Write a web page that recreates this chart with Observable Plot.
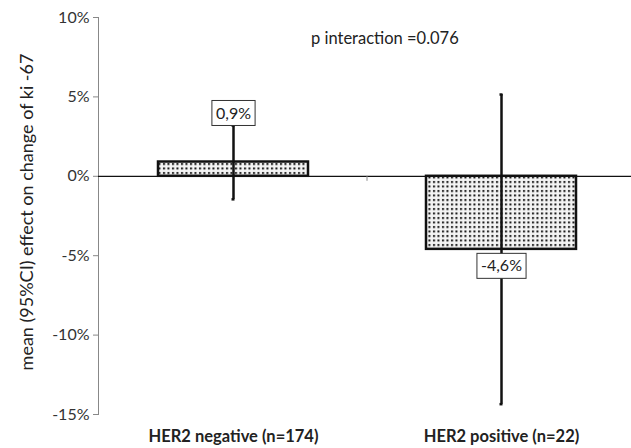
<!DOCTYPE html>
<html>
<head>
<meta charset="utf-8">
<script src="https://cdn.jsdelivr.net/npm/d3@7"></script>
<script src="https://cdn.jsdelivr.net/npm/@observablehq/plot@0.6"></script>
<style>
  html, body { margin: 0; padding: 0; background: #fff; }
  #chart { position: relative; width: 631px; height: 448px; overflow: hidden; }
  .note { position: absolute; left: 311px; top: 28px; font: 16.5px Lato, sans-serif; color: #222; }
</style>
</head>
<body>
<div id="chart"><div class="note">p interaction =0.076</div></div>
<script>
const categories = ["HER2 negative (n=174)", "HER2 positive (n=22)"];
const means = [0.9, -4.6];
const ciLow = [-1.45, -14.35];
const ciHigh = [3.2, 5.15];
const valueLabels = ["0,9%", "-4,6%"];
const yTicks = [-15, -10, -5, 0, 5, 10];

const data = categories.map((c, i) => ({cat: c, mean: means[i], lo: ciLow[i], hi: ciHigh[i], label: valueLabels[i]}));

const font = "Lato, sans-serif";
const plot = Plot.plot({
  width: 631,
  height: 448,
  marginLeft: 98,
  marginRight: -5,
  marginTop: 17,
  marginBottom: 34,
  style: {fontFamily: font, background: "white", overflow: "visible"},
  x: {domain: categories, paddingInner: 0.442, paddingOuter: 0.223, label: null},
  y: {domain: [-15, 10], label: null},
  marks: [
    Plot.frame({anchor: "left", stroke: "#888"}),
    Plot.axisY({ticks: yTicks, tickFormat: d => d + "%", tickSize: 5, tickPadding: 4, fontSize: 16, stroke: "#888", color: "#333", label: null}),
    Plot.axisX({tickSize: 0, tickPadding: 16, fontSize: 16.5, fontWeight: "bold", fill: "#222", label: null}),
    Plot.barY(data, {x: "cat", y: "mean", fill: "#f4f4f4", stroke: "#111", strokeWidth: 2.5, className: "bars"}),
    Plot.ruleY([0], {stroke: "#111", strokeWidth: 1.2}),
    Plot.ruleX(data, {x: "cat", y1: "lo", y2: "hi", stroke: "#111", strokeWidth: 2.5}),
    Plot.tickY(data, {x: "cat", y: "lo", stroke: "#111", strokeWidth: 2.5, inset: 73.5}),
    Plot.tickY(data, {x: "cat", y: "hi", stroke: "#111", strokeWidth: 2.5, inset: 73.5}),
    Plot.text(data, {x: "cat", y: d => d.mean >= 0 ? d.hi : d.mean, text: "label",
      fontSize: 16, fill: "#222", className: "vlabel"})
  ]
});

// pattern defs
const svg = d3.select(plot);
const defs = svg.insert("defs", ":first-child");
const pat = defs.append("pattern").attr("id", "dots").attr("patternUnits", "userSpaceOnUse")
  .attr("width", 4.5).attr("height", 4.5);
pat.append("rect").attr("width", 4.5).attr("height", 4.5).attr("fill", "#f4f4f4");
pat.append("rect").attr("x", 1).attr("y", 1).attr("width", 2).attr("height", 2).attr("fill", "#111");
svg.selectAll("g.bars rect").attr("fill", "url(#dots)");

// y-axis title
svg.append("text")
  .attr("transform", "translate(28,212) rotate(-90)")
  .attr("text-anchor", "middle").attr("dominant-baseline", "middle")
  .attr("font-family", font).attr("font-size", 18).attr("fill", "#222")
  .text("mean (95%CI) effect on change of ki -67");

document.getElementById("chart").appendChild(plot);

// boxed value labels (group already offset by half the bandwidth)
const xs = plot.scale("x"), ys = plot.scale("y");
svg.selectAll("g.vlabel text").each(function(d, i) {
  const t = d3.select(this);
  const row = data[i];
  const bb = this.getBBox();
  const h = 25, w = bb.width + 8;
  const cx = xs.apply(row.cat);
  let top;
  if (row.mean >= 0) top = ys.apply(row.hi) - h; else top = ys.apply(row.mean) + 4;
  t.attr("x", cx).attr("y", top + h / 2).attr("transform", null).attr("text-anchor", "middle").attr("dy", "0.35em");
  d3.select(this.parentNode).insert("rect", () => this)
    .attr("x", cx - w / 2).attr("y", top).attr("width", w).attr("height", h)
    .attr("fill", "white").attr("stroke", "#333").attr("stroke-width", 1);
});

// small boundary tick between categories on the zero line
const boundary = (xs.apply(categories[0]) + xs.bandwidth + xs.apply(categories[1])) / 2;
svg.append("line").attr("x1", boundary).attr("x2", boundary)
  .attr("y1", ys.apply(0)).attr("y2", ys.apply(0) + 5).attr("stroke", "#888");
</script>
</body>
</html>
